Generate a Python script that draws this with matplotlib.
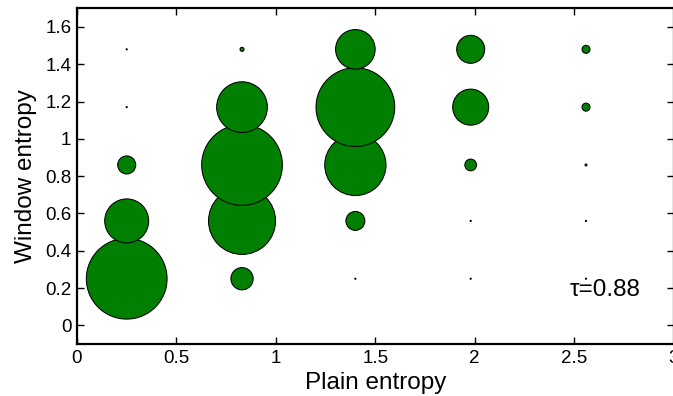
import matplotlib
matplotlib.use("Agg")
import matplotlib.pyplot as plt
import numpy as np

plt.rcParams['font.family'] = ['Liberation Sans', 'DejaVu Sans']

# Grid of entropy levels
plain_levels = [0.25, 0.83, 1.40, 1.98, 2.56]
window_levels = [0.25, 0.56, 0.86, 1.17, 1.48]

# Relative frequency (%) for each (plain, window) cell; rows follow plain_levels,
# columns follow window_levels
freq = [
    [100.0, 29.7, 5.0, 0.02, 0.02],
    [7.6, 68.9, 100.0, 39.5, 0.25],
    [0.02, 5.5, 57.5, 95.0, 24.0],
    [0.02, 0.02, 2.1, 19.9, 12.0],
    [0.02, 0.02, 0.06, 0.98, 0.98],
]
tau_label = "\u03c4=0.88"

fig = plt.figure(figsize=(6.73, 3.96), dpi=100)
ax = fig.add_axes([77 / 673, 1 - 344 / 396, 596.5 / 673, 335.7 / 396])

xs, ys, ss = [], [], []
for i, px in enumerate(plain_levels):
    for j, wy in enumerate(window_levels):
        xs.append(px)
        ys.append(wy)
        ss.append(freq[i][j])
ss = np.array(ss) * 33.8

ax.scatter(xs, ys, s=ss, facecolor='#007f00', edgecolor='black',
           linewidths=0.75, zorder=3)

ax.set_xlim(0, 3)
ax.set_ylim(-0.1, 1.7)
ax.set_xticks([0, 0.5, 1, 1.5, 2, 2.5, 3])
ax.set_xticklabels(['0', '0.5', '1', '1.5', '2', '2.5', '3'])
ax.set_yticks([0, 0.2, 0.4, 0.6, 0.8, 1.0, 1.2, 1.4, 1.6])
ax.set_yticklabels(['0', '0.2', '0.4', '0.6', '0.8', '1', '1.2', '1.4', '1.6'])
ax.tick_params(direction='in', top=True, right=True, length=5, width=1.0,
               labelsize=13.5, pad=4)
for sp in ax.spines.values():
    sp.set_linewidth(1.6)

ax.set_xlabel('Plain entropy', fontsize=17.5, labelpad=4)
ax.set_ylabel('Window entropy', fontsize=17.5, labelpad=6)

ax.text(2.48, 0.19, tau_label, fontsize=17.5, ha='left', va='center')

fig.savefig('out.png', dpi=100)
